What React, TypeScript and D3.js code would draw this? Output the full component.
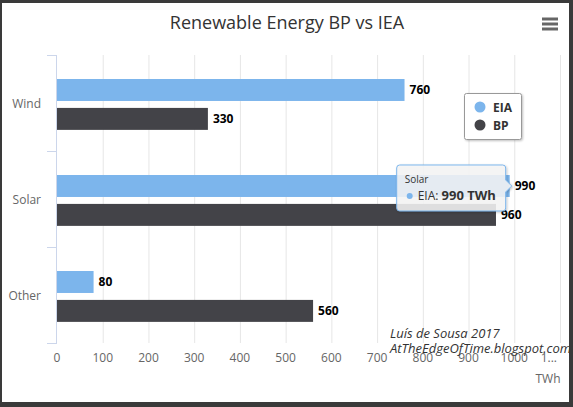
import React from 'react';
import * as d3 from 'd3';

const categories = ['Wind', 'Solar', 'Other'];
const seriesNames = ['EIA', 'BP'];
const eiaValues = [760, 990, 80];
const bpValues = [330, 960, 560];
const xTicks = [0, 100, 200, 300, 400, 500, 600, 700, 800, 900, 1000, 1100];
const seriesColors = ['#7cb5ec', '#434348'];

const W = 573;
const H = 407;
const FONT = '"Open Sans", "DejaVu Sans", sans-serif';

const App: React.FC = () => {
  const plot = { left: 57, right: 560, top: 55, bottom: 343 };

  const x = d3.scaleLinear().domain([0, 1100]).range([plot.left, plot.right]);
  const y = d3.scaleBand<string>().domain(categories).range([plot.top, plot.bottom]);
  const bw = y.bandwidth();
  const ySub = d3.scaleBand<string>()
    .domain(seriesNames)
    .range([bw * 0.25, bw * 0.78])
    .paddingInner(0.24);

  const rows = categories.map((c, i) => ({ cat: c, values: [eiaValues[i], bpValues[i]] }));

  // tooltip anchored on Solar / EIA
  const tipVal = eiaValues[1];
  const tipX = x(tipVal);
  const tipY = (y('Solar') as number) + (ySub('EIA') as number) + ySub.bandwidth() / 2;
  const boxR = tipX - 4;
  const boxL = boxR - 109;
  const boxT = tipY - 21;
  const boxB = tipY + 25;
  const tipPath = `M${boxL + 3},${boxT} H${boxR - 3} Q${boxR},${boxT} ${boxR},${boxT + 3} V${tipY - 6} L${tipX + 2},${tipY} L${boxR},${tipY + 6} V${boxB - 3} Q${boxR},${boxB} ${boxR - 3},${boxB} H${boxL + 3} Q${boxL},${boxB} ${boxL},${boxB - 3} V${boxT + 3} Q${boxL},${boxT} ${boxL + 3},${boxT} Z`;

  return (
    <div style={{ position: 'fixed', left: 0, top: 0 }}>
      <svg width={W} height={H} style={{ display: 'block', fontFamily: FONT }}>
        <defs>
          <filter id="shadow" x="-20%" y="-20%" width="150%" height="150%">
            <feDropShadow dx="1" dy="1" stdDeviation="1.2" floodColor="#000" floodOpacity="0.25" />
          </filter>
        </defs>
        <rect x={0} y={0} width={W} height={H} fill="#ffffff" />

        {/* title */}
        <text x={287} y={29} textAnchor="middle" fontSize={18} fill="#333333">
          Renewable Energy BP vs IEA
        </text>

        {/* menu icon */}
        {[19, 24, 29].map((yy) => (
          <line key={yy} x1={542} x2={558} y1={yy} y2={yy} stroke="#666666" strokeWidth={3} />
        ))}

        {/* grid */}
        {xTicks.slice(1).map((t) => (
          <line key={t} x1={x(t) + 0.5} x2={x(t) + 0.5} y1={plot.top} y2={plot.bottom} stroke="#e6e6e6" strokeWidth={1} />
        ))}

        {/* category axis */}
        <line x1={plot.left - 0.5} x2={plot.left - 0.5} y1={plot.top} y2={plot.bottom} stroke="#ccd6eb" />
        {[...categories.map((c) => y(c) as number), plot.bottom].map((yy, i) => (
          <line key={i} x1={plot.left - 10} x2={plot.left} y1={yy + 0.5} y2={yy + 0.5} stroke="#ccd6eb" />
        ))}
        {categories.map((c) => (
          <text key={c} x={41} y={(y(c) as number) + bw / 2 + 5} textAnchor="end" fontSize={12} fill="#666666">
            {c}
          </text>
        ))}

        {/* x axis labels */}
        {xTicks.map((t) => (
          t === 1100 ? (
            <text key={t} x={x(t) - 3} y={362} textAnchor="end" fontSize={12} fill="#666666">1...</text>
          ) : (
            <text key={t} x={x(t)} y={362} textAnchor="middle" fontSize={12} fill="#666666">{t}</text>
          )
        ))}
        <text x={548} y={383} textAnchor="middle" fontSize={12} fill="#666666">TWh</text>

        {/* bars */}
        {rows.map((r) => (
          <g key={r.cat} transform={`translate(0,${y(r.cat)})`}>
            {r.values.map((v, j) => {
              const yy = ySub(seriesNames[j]) as number;
              return (
                <g key={j}>
                  <rect x={x(0)} y={yy} width={x(v) - x(0)} height={ySub.bandwidth()} fill={seriesColors[j]} />
                  <text x={x(v) + 5} y={yy + ySub.bandwidth() / 2 + 4} fontSize={12} fontWeight="bold" fill="#000000">
                    {v}
                  </text>
                </g>
              );
            })}
          </g>
        ))}

        {/* legend */}
        <rect x={464.5} y={93.5} width={57} height={46} rx={2} fill="#ffffff" stroke="#999999" filter="url(#shadow)" />
        {seriesNames.map((s, i) => (
          <g key={s}>
            <circle cx={480} cy={107 + i * 18} r={5.5} fill={seriesColors[i]} />
            <text x={493} y={111.5 + i * 18} fontSize={12} fontWeight="bold" fill="#333333">{s}</text>
          </g>
        ))}

        {/* tooltip */}
        <path d={tipPath} fill="rgba(247,247,247,0.85)" stroke={seriesColors[0]} strokeWidth={1} filter="url(#shadow)" />
        <text x={boxL + 8} y={boxT + 18} fontSize={10} fill="#333333">Solar</text>
        <circle cx={boxL + 13} cy={boxT + 31} r={3} fill={seriesColors[0]} />
        <text x={boxL + 21} y={boxT + 35} fontSize={12} fill="#333333">
          EIA: <tspan fontWeight="bold" fontSize={13}>{tipVal} TWh</tspan>
        </text>

        {/* credits */}
        <text x={390} y={338} fontSize={13} fontStyle="italic" fill="#333333">Luís de Sousa 2017</text>
        <text x={390} y={353} fontSize={13} fontStyle="italic" fill="#333333">AtTheEdgeOfTime.blogspot.com</text>

        {/* dark frame */}
        <rect x={0} y={0} width={W} height={3} fill="#3a3a3a" />
        <rect x={0} y={0} width={2} height={H} fill="#3a3a3a" />
        <rect x={569} y={0} width={4} height={H} fill="#3a3a3a" />
        <rect x={0} y={402} width={W} height={5} fill="#3a3a3a" />
      </svg>
    </div>
  );
};

export default App;
